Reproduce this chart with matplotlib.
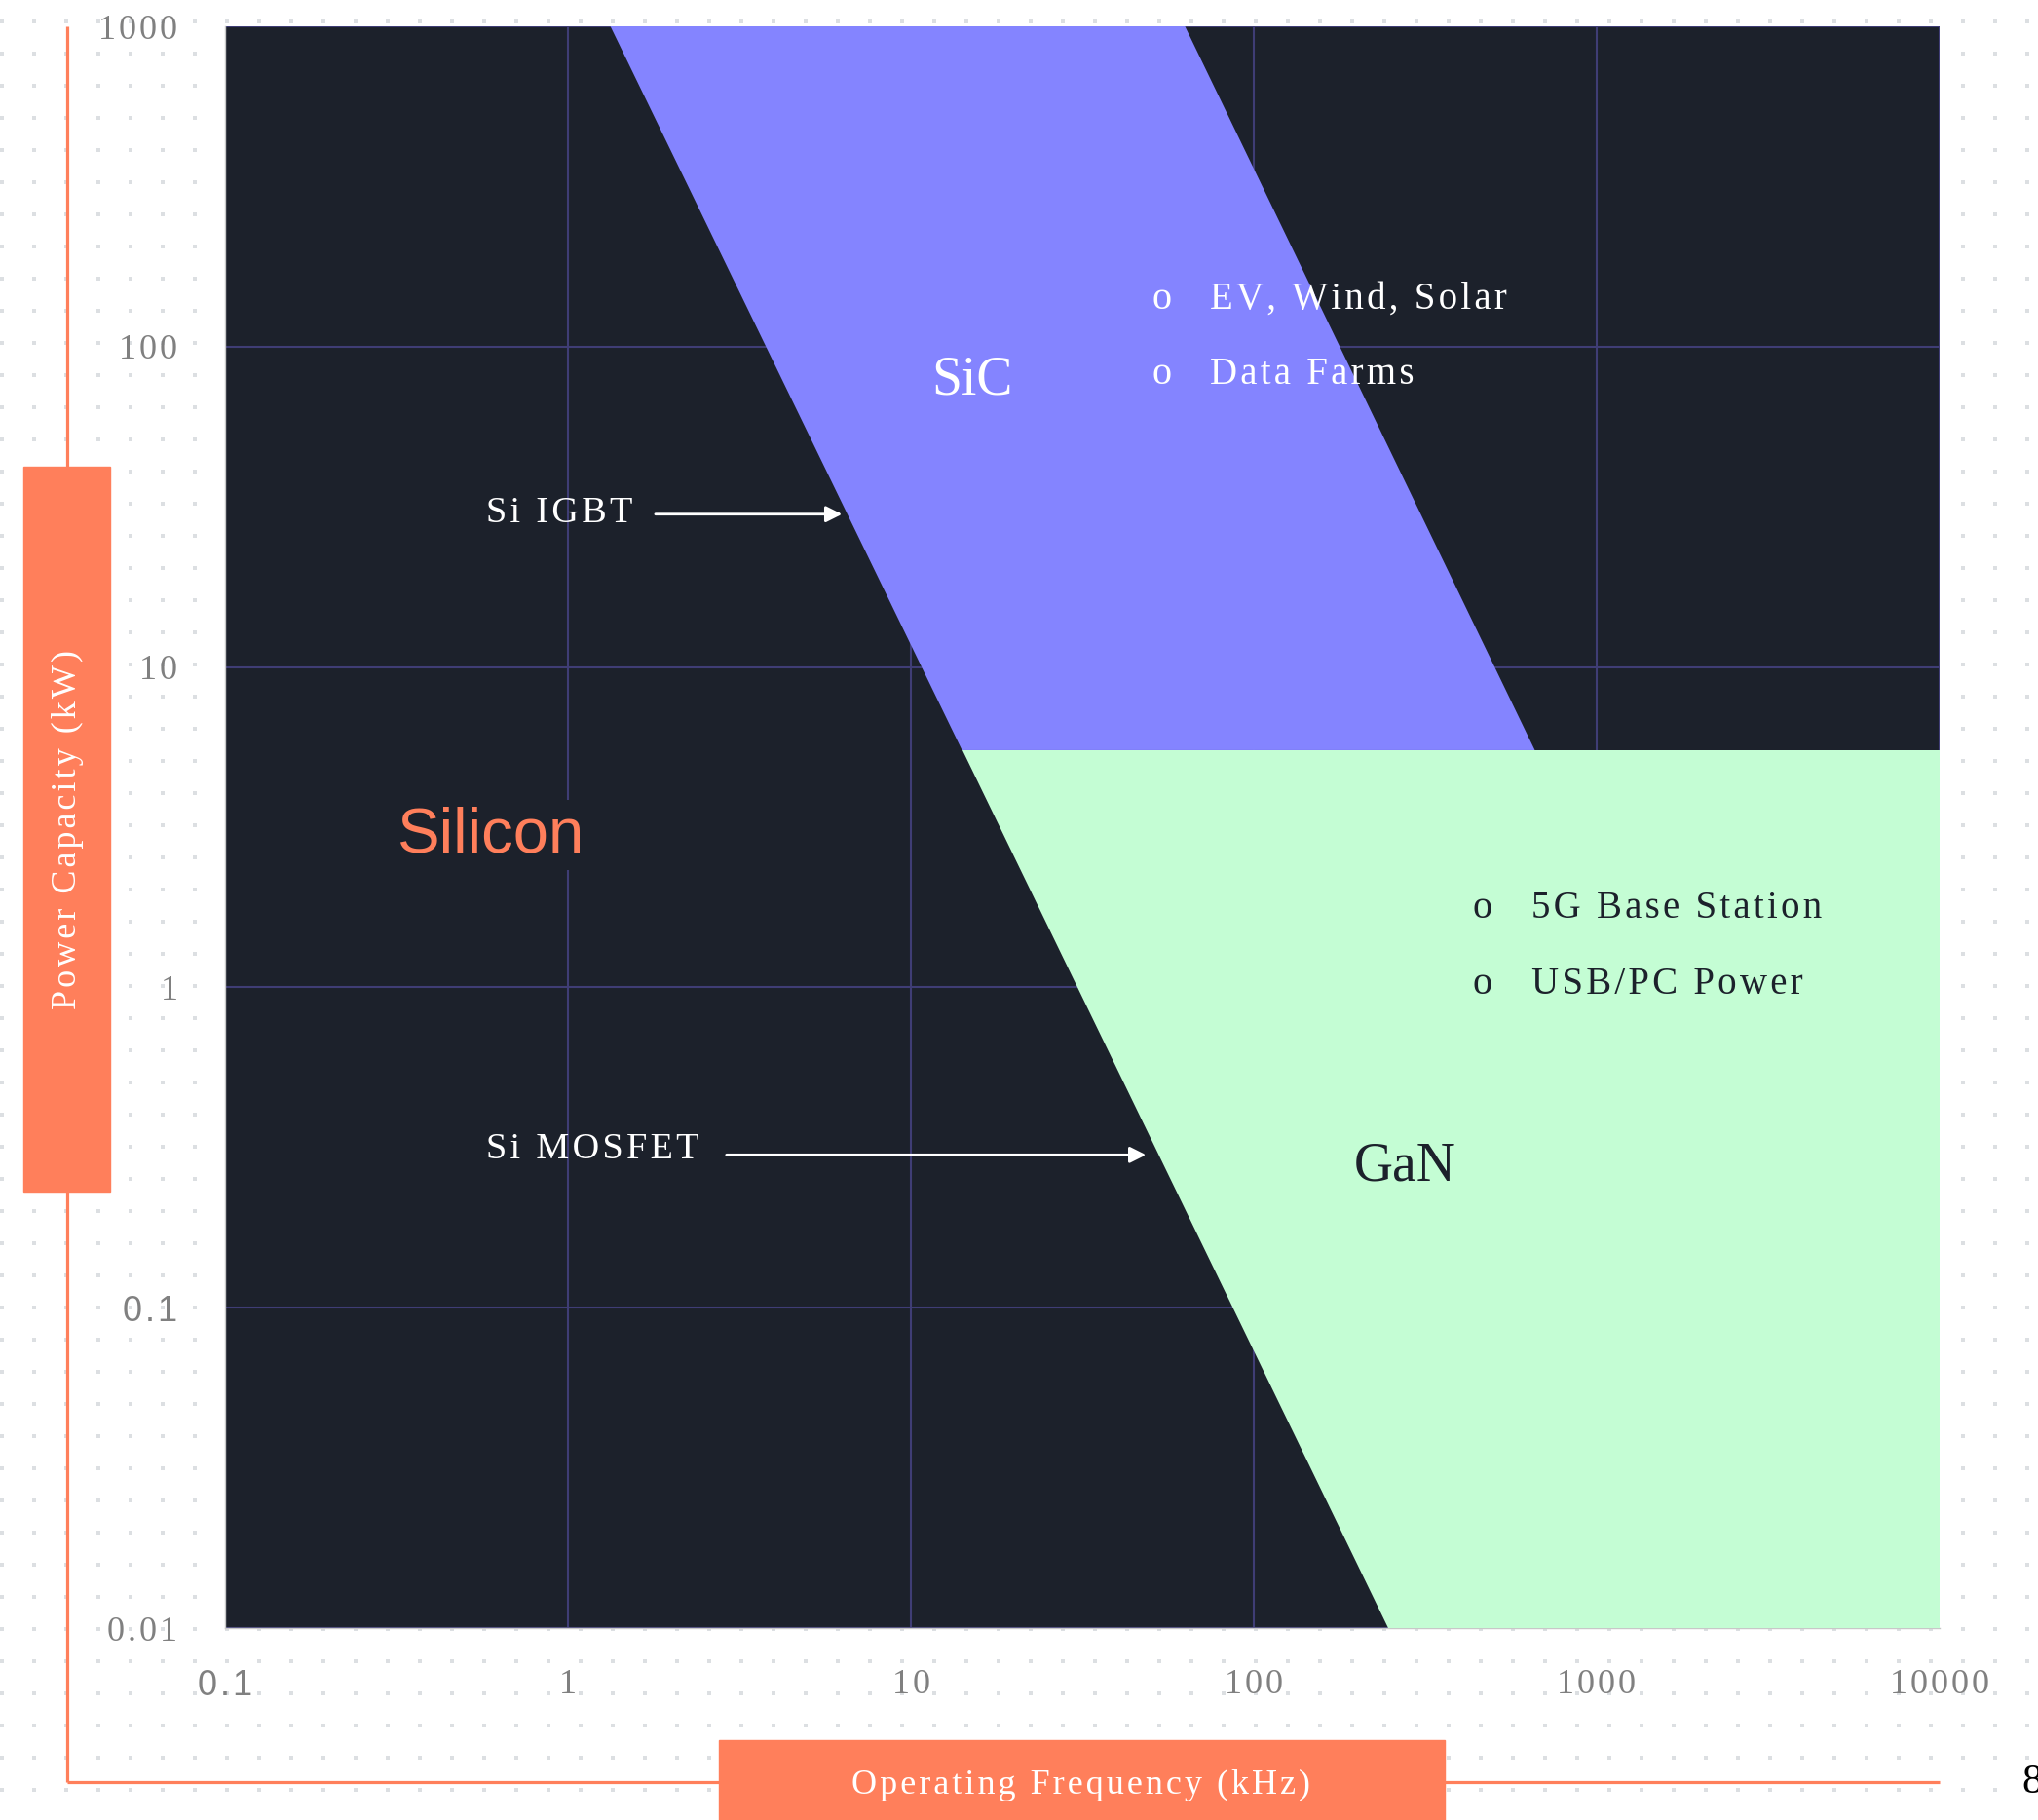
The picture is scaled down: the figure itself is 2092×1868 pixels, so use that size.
import matplotlib
matplotlib.use("Agg")
import matplotlib.pyplot as plt
import numpy as np

# ---- data ----
x_ticks = [0.1, 1, 10, 100, 1000, 10000]
x_tick_labels = ["0.1", "1", "10", "100", "1000", "10000"]
y_ticks = [0.01, 0.1, 1, 10, 100, 1000]
y_tick_labels = ["0.01", "0.1", "1", "10", "100", "1000"]

sic_x = [1.33, 63, 660, 14.1]
sic_y = [1000, 1000, 5.5, 5.5]
gan_x = [14.1, 10000, 10000, 247]
gan_y = [5.5, 5.5, 0.01, 0.01]

igbt_arrow_x = [1.8, 6.3]
igbt_arrow_y = 30
mosfet_arrow_x = [2.9, 48.5]
mosfet_arrow_y = 0.3

sic_apps = ["EV, Wind, Solar", "Data Farms"]
gan_apps = ["5G Base Station", "USB/PC Power"]

# ---- style ----
DARK = "#1c212b"
PURPLE = "#8484ff"
MINT = "#c4fdd4"
CORAL = "#ff7f5b"
GRID = "#3f3d75"
GRAY = "#808080"
SERIF = ["Liberation Serif", "DejaVu Serif"]
SANS = ["Liberation Sans", "DejaVu Sans"]

def sp(s):
    return "\u200a".join(s)

W, H = 2092, 1868
fig = plt.figure(figsize=(W / 100, H / 100), dpi=100)
fig.patch.set_facecolor("white")

# dotted background
bg = fig.add_axes([0, 0, 1, 1], zorder=-10)
bg.set_xlim(0, W)
bg.set_ylim(H, 0)
bg.axis("off")
gx, gy = np.meshgrid(np.arange(2, W, 33), np.arange(22, H, 33))
bg.scatter(gx.ravel(), gy.ravel(), s=5, marker="s", color="#dcdfe2", linewidths=0)
# orange frame lines
bg.plot([69, 69], [27, 1829], color=CORAL, lw=2.3, solid_capstyle="butt")
bg.plot([69, 1991], [1829, 1829], color=CORAL, lw=2.3, solid_capstyle="butt")
# label boxes
bg.add_patch(plt.Rectangle((24, 479), 89, 744, color=CORAL, zorder=3))
bg.add_patch(plt.Rectangle((738, 1786), 745, 90, color=CORAL, zorder=3))
bg.text(69, 851, sp("Power Capacity (kW)"), rotation=90, ha="center", va="center",
        color="white", fontsize=26, family=SERIF, zorder=4)
bg.text(1110, 1832, sp("Operating Frequency (kHz)"), ha="center", va="center",
        color="white", fontsize=26, family=SERIF, zorder=4)
bg.text(2075, 1830, "8", ha="left", va="center", color="black", fontsize=31,
        family=SERIF, zorder=4)

ax = fig.add_axes([231 / W, 1 - 1671 / H, (1991 - 231) / W, (1671 - 27) / H])
ax.set_facecolor(DARK)
ax.set_xscale("log")
ax.set_yscale("log")
ax.set_xlim(0.1, 10000)
ax.set_ylim(0.01, 1000)
ax.minorticks_off()
ax.set_xticks(x_ticks)
ax.set_xticklabels([sp(t) for t in x_tick_labels])
ax.set_yticks(y_ticks)
ax.set_yticklabels([sp(t) for t in y_tick_labels])
ax.tick_params(axis="both", length=0, colors=GRAY, labelsize=26)
ax.tick_params(axis="x", pad=30)
ax.tick_params(axis="y", pad=35)
for lab in ax.get_xticklabels() + ax.get_yticklabels():
    lab.set_family(SANS if lab.get_text() == sp("0.1") else SERIF)
ax.grid(True, color=GRID, lw=1.5)
ax.set_axisbelow(True)
for s in ["top", "right"]:
    ax.spines[s].set_visible(False)
for s in ["left", "bottom"]:
    ax.spines[s].set_color("#c8c8c8")
    ax.spines[s].set_linewidth(1)

ax.fill(sic_x, sic_y, color=PURPLE, zorder=3, lw=0)
ax.fill(gan_x, gan_y, color=MINT, zorder=3, lw=0)

# region labels
ax.text(0.155, 0.495, "Silicon", transform=ax.transAxes, ha="center", va="center",
        color=CORAL, fontsize=47, family=SANS, zorder=2.5,
        bbox=dict(facecolor=DARK, edgecolor="none", pad=4))
ax.text(0.436, 0.779, "SiC", transform=ax.transAxes, ha="center", va="center",
        color="white", fontsize=40, family=SERIF, zorder=5)
ax.text(0.688, 0.288, "GaN", transform=ax.transAxes, ha="center", va="center",
        color=DARK, fontsize=40, family=SERIF, zorder=5)

# bullets
for i, t in enumerate(sic_apps):
    yy = [0.8295, 0.7825][i]
    ax.text(0.5466, yy, "o", transform=ax.transAxes, ha="center", va="center",
            color="white", fontsize=29, family=SERIF, zorder=5)
    ax.text(0.5747, yy, sp(t), transform=ax.transAxes, ha="left", va="center",
            color="white", fontsize=28, family=SERIF, zorder=5)
for i, t in enumerate(gan_apps):
    yy = [0.449, 0.402][i]
    ax.text(0.733, yy, "o", transform=ax.transAxes, ha="center", va="center",
            color=DARK, fontsize=29, family=SERIF, zorder=5)
    ax.text(0.762, yy, sp(t), transform=ax.transAxes, ha="left", va="center",
            color=DARK, fontsize=28, family=SERIF, zorder=5)

# arrows
ax.text(0.152, 0.696, sp("Si IGBT"), transform=ax.transAxes, ha="left", va="center",
        color="white", fontsize=27.5, family=SERIF, zorder=5)
ax.annotate("", xy=(igbt_arrow_x[1], igbt_arrow_y), xytext=(igbt_arrow_x[0], igbt_arrow_y),
            arrowprops=dict(arrowstyle="-|>", color="white", lw=2, mutation_scale=25,
                            shrinkA=0, shrinkB=0), zorder=5)
ax.text(0.152, 0.2987, sp("Si MOSFET"), transform=ax.transAxes, ha="left", va="center",
        color="white", fontsize=27.5, family=SERIF, zorder=5)
ax.annotate("", xy=(mosfet_arrow_x[1], mosfet_arrow_y), xytext=(mosfet_arrow_x[0], mosfet_arrow_y),
            arrowprops=dict(arrowstyle="-|>", color="white", lw=2, mutation_scale=25,
                            shrinkA=0, shrinkB=0), zorder=5)

fig.savefig("out.png", dpi=100)
